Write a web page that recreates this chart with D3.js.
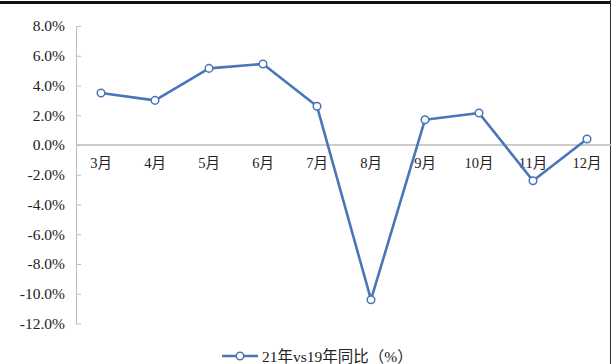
<!DOCTYPE html>
<html>
<head>
<meta charset="utf-8">
<script src="https://cdn.jsdelivr.net/npm/d3@7"></script>
<style>
  html, body { margin: 0; padding: 0; background: #fff; }
  svg { display: block; }
  text { font-family: "Liberation Serif", "Noto Sans CJK SC", serif; fill: #222; }
</style>
</head>
<body>
<svg id="chart" width="611" height="364"></svg>
<script>
// Monthly values: 2021 vs 2019 year-on-year change (%)
const months = ["3月", "4月", "5月", "6月", "7月", "8月", "9月", "10月", "11月", "12月"];
const values = [3.5, 3.0, 5.15, 5.45, 2.6, -10.4, 1.7, 2.15, -2.4, 0.4];
const yTicks = [8, 6, 4, 2, 0, -2, -4, -6, -8, -10, -12];
const seriesName = "21年vs19年同比（%）";

const W = 611, H = 364;
const svg = d3.select("#chart");
const color = "#4a76b8";
const axisColor = "#bdbdbd";
const fontStack = "Liberation Serif, Noto Sans CJK SC, serif";

const x = d3.scaleBand().domain(months).range([76, 616]);
const y = d3.scaleLinear().domain([-12, 8]).range([323.5, 26]);

// outer frame: heavy top rule and thin right edge
svg.append("rect").attr("x", 0).attr("y", 1).attr("width", W).attr("height", 3).attr("fill", "#111");
svg.append("line").attr("x1", W - 0.5).attr("x2", W - 0.5).attr("y1", 0).attr("y2", H)
  .attr("stroke", "#333").attr("stroke-width", 1);

// y axis
const yAxis = svg.append("g").attr("transform", "translate(76,0)")
  .call(d3.axisLeft(y).tickValues(yTicks).tickSize(0).tickPadding(11)
    .tickFormat(d => d.toFixed(1) + "%"));
yAxis.attr("font-family", fontStack);
yAxis.select(".domain").attr("stroke", axisColor);
yAxis.selectAll(".tick line").remove();
yAxis.selectAll(".tick").append("line")
  .attr("x1", 0).attr("x2", 5).attr("stroke", axisColor);
yAxis.selectAll("text").attr("font-size", 15.5).attr("fill", "#222");

// zero baseline with month labels underneath
svg.append("line").attr("x1", 76).attr("x2", W).attr("y1", y(0)).attr("y2", y(0))
  .attr("stroke", axisColor).attr("stroke-width", 1.3);
svg.append("g").selectAll("text").data(months).join("text")
  .attr("x", d => x(d) + x.bandwidth() / 2 - 2)
  .attr("y", y(0) + 23)
  .attr("text-anchor", "middle")
  .attr("font-size", 14.5)
  .text(d => d);

// series line and markers
const line = d3.line()
  .x((d, i) => x(months[i]) + x.bandwidth() / 2 - 2)
  .y(d => y(d));
svg.append("path").datum(values).attr("d", line)
  .attr("fill", "none").attr("stroke", color).attr("stroke-width", 2.6)
  .attr("stroke-linejoin", "round");
svg.append("g").selectAll("circle").data(values).join("circle")
  .attr("cx", (d, i) => x(months[i]) + x.bandwidth() / 2 - 2)
  .attr("cy", d => y(d))
  .attr("r", 3.8)
  .attr("fill", "#fff").attr("stroke", color).attr("stroke-width", 1.5);

// legend
const lg = svg.append("g").attr("transform", "translate(222,356)");
lg.append("line").attr("x1", 0).attr("x2", 36).attr("y1", 0).attr("y2", 0)
  .attr("stroke", color).attr("stroke-width", 2.6);
lg.append("circle").attr("cx", 18).attr("cy", 0).attr("r", 3.8)
  .attr("fill", "#fff").attr("stroke", color).attr("stroke-width", 1.5);
lg.append("text").attr("x", 40).attr("y", 5.5).attr("font-size", 15.5).text(seriesName);
</script>
</body>
</html>
